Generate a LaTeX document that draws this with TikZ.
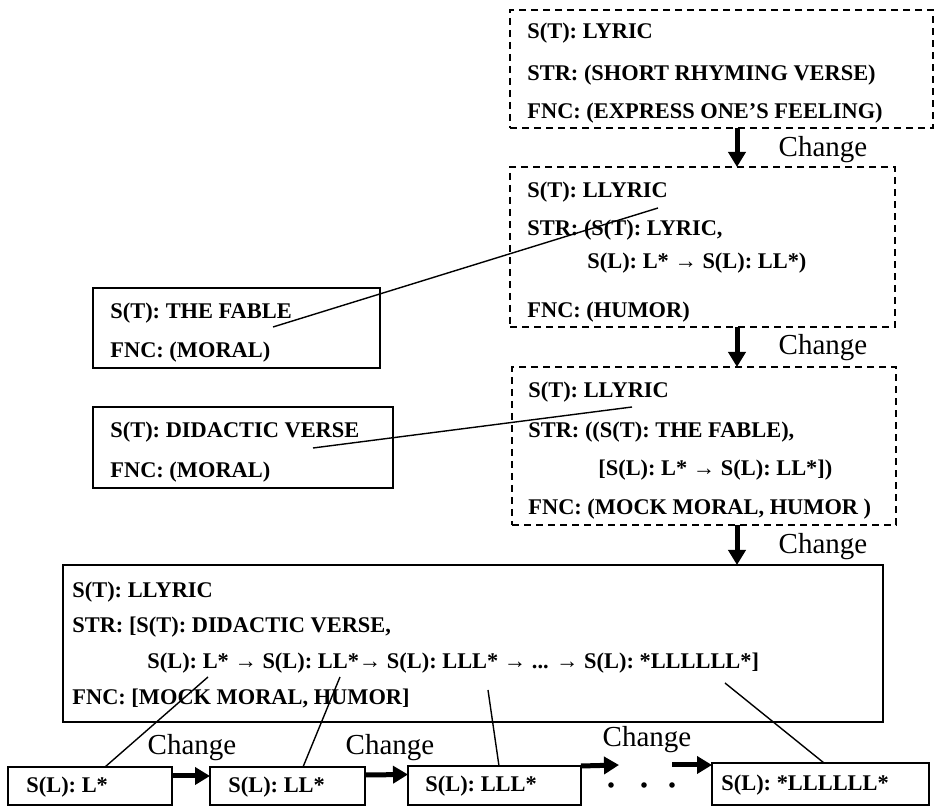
\documentclass[tikz,border=0pt]{standalone}
\usepackage{fontspec}
\setmainfont{Liberation Serif}
\usetikzlibrary{arrows.meta,positioning,calc}
\tikzset{
  every picture/.style={x=0.5pt,y=-0.5pt},
  dbox/.style={draw,dash pattern=on 3.5pt off 2.5pt,line width=1pt,inner sep=0pt,outer sep=0pt,anchor=north west},
  sbox/.style={draw,line width=1.1pt,inner sep=0pt,outer sep=0pt,anchor=north west},
  txt/.style={font=\bfseries\fontsize{11.2}{13}\selectfont,anchor=west,inner sep=0pt},
  chg/.style={font=\fontsize{14.5}{16}\selectfont,inner sep=0pt},
  flow/.style={line width=2.5pt,-{Triangle[length=7.5pt,width=8.5pt]}},
  tie/.style={line width=0.7pt},
  dot/.style={circle,fill,inner sep=0pt,minimum size=2.8pt},
}
\begin{document}
\begin{tikzpicture}
  \useasboundingbox (0,0) rectangle (934,807);
  \node[dbox,minimum width=211.5pt,minimum height=59pt] (lyric) at (510,10) {};
  \node[dbox,minimum width=192.5pt,minimum height=80pt] (llyricA) at (510,167) {};
  \node[dbox,minimum width=192pt,minimum height=79pt] (llyricB) at (512,367) {};
  \node[sbox,minimum width=410pt,minimum height=78.5pt] (llyricC) at (63,565) {};
  \node[sbox,minimum width=143.5pt,minimum height=40pt] (fable) at (93,288) {};
  \node[sbox,minimum width=150pt,minimum height=40.5pt] (didactic) at (93,407) {};
  \node[sbox,minimum width=82pt,minimum height=19pt] (s1) at (8,767) {};
  \node[sbox,minimum width=77.5pt,minimum height=19pt] (s2) at (210,767) {};
  \node[sbox,minimum width=86.5pt,minimum height=19.5pt] (s3) at (408,766) {};
  \node[sbox,minimum width=108.5pt,minimum height=21pt] (s4) at (712,763) {};

  \node[txt] (lyric1) at (527,33) {S(T): LYRIC};
  \node[txt] (lyric2) at (527,75) {STR: (SHORT RHYMING VERSE)};
  \node[txt] (lyric3) at (527,113) {FNC: (EXPRESS ONE’S FEELING)};
  \node[txt] (llyricA1) at (527,192) {S(T): LLYRIC};
  \node[txt] (llyricA2) at (527,230) {STR: (S(T): LYRIC,};
  \node[txt] (llyricA3) at (587,263) {S(L): L* → S(L): LL*)};
  \node[txt] (llyricA4) at (527,312) {FNC: (HUMOR)};
  \node[txt] (llyricB1) at (528,392) {S(T): LLYRIC};
  \node[txt] (llyricB2) at (528,432) {STR: ((S(T): THE FABLE),};
  \node[txt] (llyricB3) at (598,470) {[S(L): L* → S(L): LL*])};
  \node[txt] (llyricB4) at (528,509) {FNC: (MOCK MORAL, HUMOR )};
  \node[txt] (llyricC1) at (72,592) {S(T): LLYRIC};
  \node[txt] (llyricC2) at (72,627) {STR: [S(T): DIDACTIC VERSE,};
  \node[txt] (llyricC3) at (147,663) {S(L): L* → S(L): LL*→ S(L): LLL* → ... → S(L): *LLLLLL*]};
  \node[txt] (llyricC4) at (72,698) {FNC: [MOCK MORAL, HUMOR]};
  \node[txt] (fable1) at (110,313) {S(T): THE FABLE};
  \node[txt] (fable2) at (110,352) {FNC: (MORAL)};
  \node[txt] (didactic1) at (110,432) {S(T): DIDACTIC VERSE};
  \node[txt] (didactic2) at (110,472) {FNC: (MORAL)};
  \node[txt] (s1t) at (26,787) {S(L): L*};
  \node[txt] (s2t) at (228,787) {S(L): LL*};
  \node[txt] (s3t) at (425,786) {S(L): LLL*};
  \node[txt] (s4t) at (721,785) {S(L): *LLLLLL*};

  % vertical changes
  \coordinate (col) at (737,0);
  \draw[flow] (lyric.south -| col) -- (llyricA.north -| col);
  \draw[flow] (llyricA.south -| col) -- (llyricB.north -| col);
  \draw[flow] (llyricB.south -| col) -- (llyricC.north -| col);
  \node[chg] (c1) at (823,150) {Change};
  \node[chg] (c2) at (823,348) {Change};
  \node[chg] (c3) at (823,547) {Change};

  % the row of S(L)
  \draw[flow] ([yshift=5pt]s1.east) -- ([yshift=5pt]s2.west);
  \draw[flow] ([yshift=5.5pt]s2.east) -- ([yshift=5.5pt]s3.west);
  \coordinate (gapA) at (619,765);
  \coordinate (gapB) at (672,765);
  \draw[flow] (s3.north east) -- (gapA);
  \draw[flow] (gapB) -- (s4.west |- gapB);
  \node[chg] (c4) at (192,748) {Change};
  \node[chg] (c5) at (390,748) {Change};
  \node[chg] (c6) at (647,740) {Change};
  \node[dot] (d1) at (611,785) {};
  \node[dot] (d2) at (644,785) {};
  \node[dot] (d3) at (672,785) {};

  % ties
  \coordinate (t1) at (273,327);
  \coordinate (t1e) at (658,208);
  \coordinate (t2) at (313,448);
  \coordinate (t2e) at (632,407);
  \coordinate (t3) at (208,677);
  \coordinate (t4) at (340,677);
  \coordinate (t5) at (488,690);
  \coordinate (t6) at (725,683);
  \draw[tie] (t1) -- (t1e);
  \draw[tie] (t2) -- (t2e);
  \draw[tie] (t3) -- ($(s1.north west)+(97,0)$);
  \draw[tie] (t4) -- ($(s2.north west)+(93,0)$);
  \draw[tie] (t5) -- ($(s3.north west)+(91,0)$);
  \draw[tie] (t6) -- ($(s4.north west)+(112,0)$);
\end{tikzpicture}
\end{document}
